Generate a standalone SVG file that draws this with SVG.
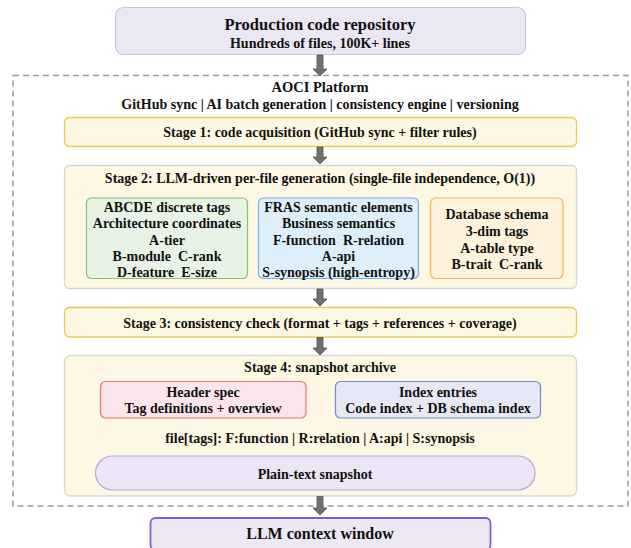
<svg xmlns="http://www.w3.org/2000/svg" width="631" height="548" viewBox="0 0 631 548">
<style>
text{font-family:"Liberation Serif","Times New Roman",serif;font-weight:bold;fill:#111;text-anchor:middle;dominant-baseline:central;white-space:pre}
.t16{font-size:16.5px}
.t13{font-size:14px}
.stage{fill:#FDF7E3;stroke-width:1.3}
.gold{stroke:#F0C850}
.grey{stroke:#D6D6D6}
.arr{fill:#707070;stroke:#505050;stroke-width:0.8}
</style>
<rect width="631" height="548" fill="#ffffff"/>
<g id="repo">
<rect x="115.5" y="7.5" width="410" height="47" rx="8" fill="#ECE7F5" stroke="#C9C5D2" stroke-width="1.2"/>
<text class="t16" x="320" y="24">Production code repository</text>
<text class="t13" x="320" y="43">Hundreds of files, 100K+ lines</text>
</g>
<g id="platform">
<rect x="13" y="75.5" width="615" height="430.5" fill="none" stroke="#9A9A9A" stroke-width="1.5" stroke-dasharray="6,4"/>
<text class="t13" x="320" y="87" style="font-size:14.5px">AOCI Platform</text>
<text class="t13" x="320" y="104">GitHub sync | AI batch generation | consistency engine | versioning</text>
</g>
<g id="stage1">
<rect class="stage gold" x="64.5" y="117.5" width="512" height="29" rx="5"/>
<text class="t13" x="320" y="132">Stage 1: code acquisition (GitHub sync + filter rules)</text>
</g>
<g id="stage2">
<rect class="stage grey" x="64.5" y="165.5" width="512" height="123" rx="5"/>
<text class="t13" x="320" y="178">Stage 2: LLM-driven per-file generation (single-file independence, O(1))</text>
</g>
<g id="abcde">
<rect x="86.5" y="198" width="161" height="80.5" rx="5" fill="#E7F3E5" stroke="#7FC67C" stroke-width="1.2"/>
<text class="t13" x="167" y="207">ABCDE discrete tags</text>
<text class="t13" x="167" y="223.5">Architecture coordinates</text>
<text class="t13" x="167" y="240">A-tier</text>
<text class="t13" x="167" y="256">B-module  C-rank</text>
<text class="t13" x="167" y="272">D-feature  E-size</text>
</g>
<g id="fras">
<rect x="258.5" y="198" width="160" height="80.5" rx="5" fill="#DEEEFB" stroke="#6DB6F2" stroke-width="1.2"/>
<text class="t13" x="338.5" y="207">FRAS semantic elements</text>
<text class="t13" x="338.5" y="223.5">Business semantics</text>
<text class="t13" x="338.5" y="240">F-function  R-relation</text>
<text class="t13" x="338.5" y="256">A-api</text>
<text class="t13" x="338.5" y="272">S-synopsis (high-entropy)</text>
</g>
<g id="dbschema">
<rect x="430.5" y="198" width="132.5" height="80.5" rx="5" fill="#FEF1DD" stroke="#F6B352" stroke-width="1.2"/>
<text class="t13" x="497" y="214.5">Database schema</text>
<text class="t13" x="497" y="231">3-dim tags</text>
<text class="t13" x="497" y="248">A-table type</text>
<text class="t13" x="497" y="264">B-trait  C-rank</text>
</g>
<g id="stage3">
<rect class="stage gold" x="64.5" y="307.5" width="512" height="29.5" rx="5"/>
<text class="t13" x="320" y="323">Stage 3: consistency check (format + tags + references + coverage)</text>
</g>
<g id="stage4">
<rect class="stage grey" x="64.5" y="355.5" width="512" height="140.5" rx="6"/>
<text class="t13" x="320" y="367">Stage 4: snapshot archive</text>
<text class="t13" x="320" y="438">file[tags]: F:function | R:relation | A:api | S:synopsis</text>
</g>
<g id="header">
<rect x="100.5" y="381.5" width="205.5" height="36.5" rx="5" fill="#FBE4EA" stroke="#E57777" stroke-width="1.2"/>
<text class="t13" x="203" y="392">Header spec</text>
<text class="t13" x="203" y="408">Tag definitions + overview</text>
</g>
<g id="index">
<rect x="335.5" y="381.5" width="205" height="36.5" rx="5" fill="#E7E8F6" stroke="#7C88CE" stroke-width="1.2"/>
<text class="t13" x="438" y="392">Index entries</text>
<text class="t13" x="438" y="408">Code index + DB schema index</text>
</g>
<g id="snapshot">
<rect x="95.5" y="456" width="439.5" height="34" rx="17" fill="#EBE5F6" stroke="#B7A3DE" stroke-width="1.2"/>
<text class="t13" x="315" y="474">Plain-text snapshot</text>
</g>
<g id="llm">
<rect x="150.5" y="518" width="340" height="32" rx="5" fill="#EDE7F6" stroke="#8460C6" stroke-width="1.8"/>
<text class="t16" x="320" y="533" style="font-size:16px">LLM context window</text>
</g>
<g id="connectors">
<path class="arr" d="M317,55 H323 V69 H327 L320,76 L313,69 H317 Z"/>
<path class="arr" d="M317,147 H323 V157 H327 L320,164 L313,157 H317 Z"/>
<path class="arr" d="M317,289 H323 V299 H327 L320,306 L313,299 H317 Z"/>
<path class="arr" d="M317,337.5 H323 V348 H327 L320,355 L313,348 H317 Z"/>
<path class="arr" d="M317,496.5 H323 V508 H327 L320,515 L313,508 H317 Z"/>
</g>
</svg>
